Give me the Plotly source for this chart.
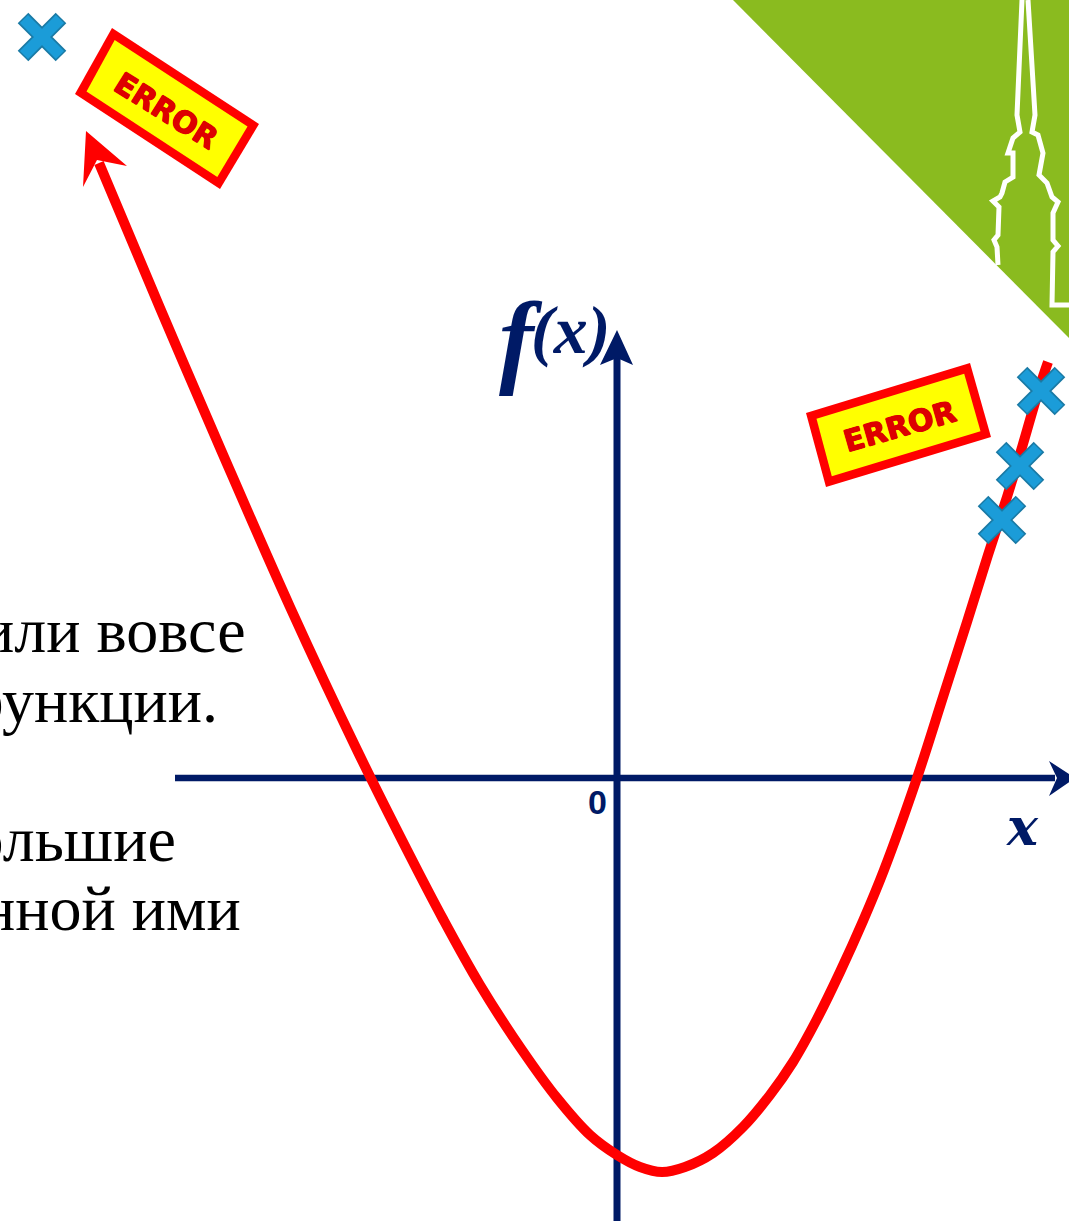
"""Parabola with outliers, drawn on a pixel-sized data frame so the slide layout carries over."""

import plotly.graph_objects as go

NAVY = "#001a66"
RED = "#ff0000"
YELLOW = "#ffff00"

curve_x = [99, 160, 221, 290, 357, 407, 443, 480, 522, 557, 590, 617, 640, 662, 685, 713, 743, 770, 793, 817, 840, 863, 884, 917, 943, 967, 988, 1007, 1018, 1040, 1048]
curve_y = [163, 308, 450, 607, 750, 850, 919, 985, 1050, 1098, 1135, 1155, 1167, 1172, 1167, 1153, 1127, 1095, 1062, 1019, 972, 921, 870, 778, 697, 622, 555, 497, 461, 386, 362]

outlier_x = [42, 1041, 1020, 1002]
outlier_y = [37, 391, 466, 520]

corner_x = [733, 1069, 1069]
corner_y = [0, 0, 338]
tower_x = [998, 997, 994, 998, 999, 993, 1000, 1002, 1005, 1013, 1013, 1008, 1013, 1020, 1017, 1019, 1022]
tower_y = [265, 247, 240, 235, 207, 201, 197, 193, 182, 177, 153, 153, 138, 132, 115, 67, 0]
tower2_x = [1028, 1032, 1035, 1032, 1038, 1043, 1039, 1047, 1052, 1058, 1053, 1053, 1058, 1053, 1053, 1052, 1069]
tower2_y = [0, 67, 115, 132, 135, 153, 175, 183, 197, 202, 213, 240, 246, 252, 293, 305, 305]

box1_outer_x = [112, 259, 220, 75]
box1_outer_y = [28, 124, 189, 94]
box1_inner_x = [114.7, 247.5, 217.3, 86.5]
box1_inner_y = [39.9, 126.6, 177.1, 91.4]
box2_outer_x = [970, 991, 826, 806]
box2_outer_y = [363, 437, 487, 413]
box2_inner_x = [964.2, 980.5, 831.8, 816.5]
box2_inner_y = [373.7, 431.3, 476.3, 418.7]

yaxis_x = [617, 617]
yaxis_y = [350, 1221]
xaxis_x = [175, 1055]
xaxis_y = [778, 778]

yhead_x = [617, 600, 617, 633]
yhead_y = [330, 365, 358, 365]
xhead_x = [1075, 1049, 1057, 1049]
xhead_y = [778, 761, 778, 796]
redhead_x = [86, 127, 97, 83]
redhead_y = [131, 166, 160, 187]

body_lines = ["или вовсе", "функции.", "большие", "нной ими"]
body_right = [248, 220, 178, 243]
body_y = [630, 700, 839, 908]

fig = go.Figure()


def polygon(xs, ys, fill):
    fig.add_trace(go.Scatter(
        x=xs + xs[:1], y=ys + ys[:1], mode="lines", fill="toself", fillcolor=fill,
        line=dict(color=fill, width=0),
    ))


polygon(corner_x, corner_y, "#8abb1f")
for xs, ys in ((tower_x, tower_y), (tower2_x, tower2_y)):
    fig.add_trace(go.Scatter(x=xs, y=ys, mode="lines", line=dict(color="white", width=5)))

fig.add_trace(go.Scatter(x=xaxis_x, y=xaxis_y, mode="lines", line=dict(color=NAVY, width=6.5)))
polygon(xhead_x, xhead_y, NAVY)
fig.add_trace(go.Scatter(x=yaxis_x, y=yaxis_y, mode="lines", line=dict(color=NAVY, width=7)))
polygon(yhead_x, yhead_y, NAVY)
fig.add_trace(go.Scatter(
    x=curve_x, y=curve_y, mode="lines", line=dict(color=RED, width=10, shape="spline", smoothing=1.0),
))
polygon(redhead_x, redhead_y, RED)

# outer + inner polygons rather than a stroke, so the box corners stay sharp
polygon(box1_outer_x, box1_outer_y, RED)
polygon(box1_inner_x, box1_inner_y, YELLOW)
polygon(box2_outer_x, box2_outer_y, RED)
polygon(box2_inner_x, box2_inner_y, YELLOW)

# two stacked x-thin layers: the plain "x" symbol is too stubby to pass for these crosses
for color, size, width in (("#1a7aa5", 38, 15), ("#1b9cd8", 36, 11.5)):
    fig.add_trace(go.Scatter(
        x=outlier_x, y=outlier_y, mode="markers",
        marker=dict(symbol="x-thin-open", size=size, color=color, line=dict(width=width)),
    ))

for text, right, y in zip(body_lines, body_right, body_y):
    fig.add_annotation(
        x=right, y=y, text=text, showarrow=False, xanchor="right", yanchor="middle",
        font=dict(family="Liberation Serif", size=64, color="black"),
    )

HEAVY = "0.6px 0 0 #dd0000, -0.6px 0 0 #dd0000, 0 0.6px 0 #dd0000, 0 -0.6px 0 #dd0000"
for x, y, angle in ((166, 110, 32), (899, 426, -16)):
    fig.add_annotation(
        x=x, y=y, text="<b>ERROR</b>", showarrow=False, textangle=angle,
        font=dict(family="DejaVu Sans", size=30, color="#dd0000", shadow=HEAVY),
    )

labels = [
    (521, 338, "<b><i>f</i></b>", "Liberation Serif", 104),
    (570, 330, "<b><i>(x)</i></b>", "Liberation Serif", 68),
    (1022, 826, "<b><i>x</i></b>", "DejaVu Serif", 52),
    (597, 802, "<b>0</b>", "Liberation Sans", 34),
]
for x, y, text, family, size in labels:
    fig.add_annotation(
        x=x, y=y, text=text, showarrow=False,
        font=dict(family=family, size=size, color=NAVY),
    )

fig.update_layout(
    width=1069, height=1221, margin=dict(l=0, r=0, t=0, b=0), showlegend=False,
    plot_bgcolor="white", paper_bgcolor="white", hovermode=False,
    xaxis=dict(range=[0, 1069], visible=False),
    yaxis=dict(range=[1221, 0], visible=False),
)
fig.write_html(
    "out.html", config=dict(displayModeBar=False),
    post_script="document.body.style.margin='0';document.body.style.overflow='hidden';",
)
